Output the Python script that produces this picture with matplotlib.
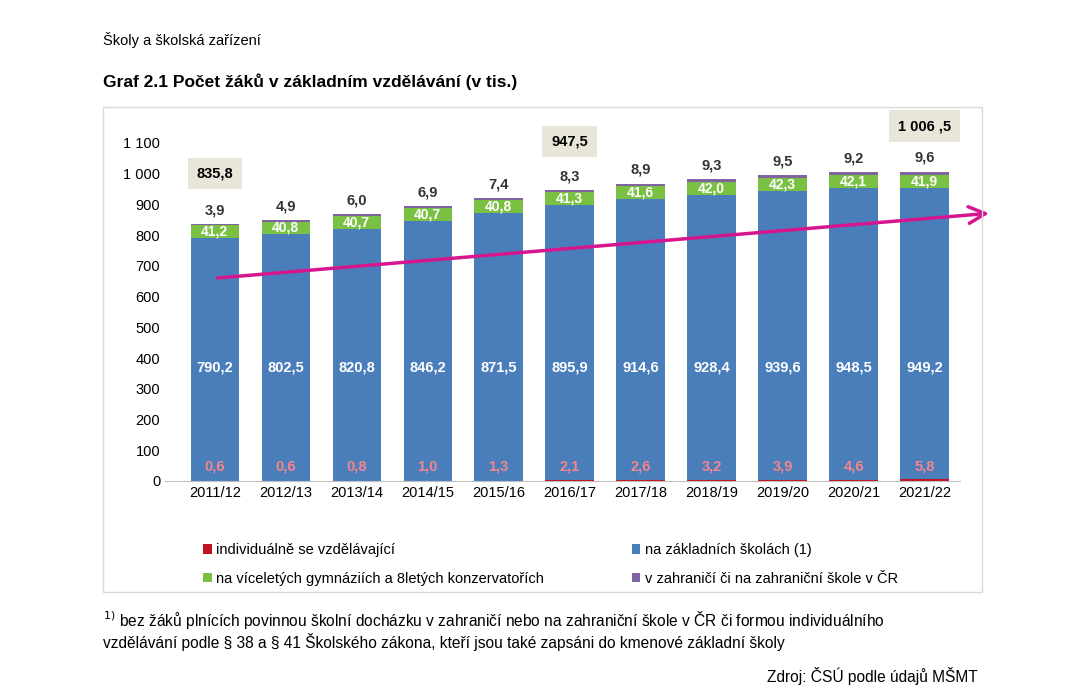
import matplotlib.pyplot as plt
from matplotlib.patches import Rectangle

plt.rcParams['font.family'] = ['Liberation Sans', 'DejaVu Sans']

years = ['2011/12', '2012/13', '2013/14', '2014/15', '2015/16', '2016/17',
         '2017/18', '2018/19', '2019/20', '2020/21', '2021/22']
individual = [0.6, 0.6, 0.8, 1.0, 1.3, 2.1, 2.6, 3.2, 3.9, 4.6, 5.8]
zakladni = [790.2, 802.5, 820.8, 846.2, 871.5, 895.9, 914.6, 928.4, 939.6, 948.5, 949.2]
gymnazia = [41.2, 40.8, 40.7, 40.7, 40.8, 41.3, 41.6, 42.0, 42.3, 42.1, 41.9]
zahranici = [3.9, 4.9, 6.0, 6.9, 7.4, 8.3, 8.9, 9.3, 9.5, 9.2, 9.6]
totals = {0: '835,8', 5: '947,5', 10: '1 006 ,5'}
yticks = list(range(0, 1101, 100))

def cz(v):
    return f'{v:.1f}'.replace('.', ',')

fig = plt.figure(figsize=(10.79, 6.93), dpi=100)
fig.patches.append(Rectangle((103/1079, 1-592/693), 879/1079, 485/693,
                             transform=fig.transFigure, fill=False,
                             edgecolor='#d9d9d9', lw=1))
ax = fig.add_axes([165/1079, 1-481/693, 795/1079, 338/693])

x = list(range(len(years)))
w = 0.68
c_red, c_blue, c_green, c_purple = '#c0121f', '#4a7ebb', '#7ac143', '#8064a2'
b1 = individual
b2 = [a + b for a, b in zip(b1, zakladni)]
b3 = [a + b for a, b in zip(b2, gymnazia)]
ax.bar(x, individual, w, color=c_red, label='individuálně se vzdělávající')
ax.bar(x, zakladni, w, bottom=b1, color=c_blue, label='na základních školách (1)')
ax.bar(x, gymnazia, w, bottom=b2, color=c_green,
       label='na víceletých gymnáziích a 8letých konzervatořích')
ax.bar(x, zahranici, w, bottom=b3, color=c_purple,
       label='v zahraničí či na zahraniční škole v ČR')

for i in x:
    ax.text(i, 48, cz(individual[i]), ha='center', va='center', color='#f4868c',
            fontsize=10.5, fontweight='bold')
    ax.text(i, 370, cz(zakladni[i]), ha='center', va='center', color='white',
            fontsize=10.5, fontweight='bold')
    ax.text(i, b2[i] + gymnazia[i] / 2, cz(gymnazia[i]), ha='center', va='center',
            color='white', fontsize=10, fontweight='bold')
    ax.text(i, b3[i] + zahranici[i] + 22, cz(zahranici[i]), ha='center',
            va='bottom', color='#333333', fontsize=10.5, fontweight='bold')

for i, t in totals.items():
    ypos = {0: 1000, 5: 1105, 10: 1155}[i]
    ax.text(i, ypos, t, ha='center', va='center', fontsize=10.5, fontweight='bold',
            bbox=dict(boxstyle='square,pad=0.6', fc='#e8e6d8', ec='none'),
            clip_on=False)

ax.annotate('', xy=(10.95, 872), xytext=(0, 660),
            arrowprops=dict(arrowstyle='->,head_length=1.2,head_width=0.6',
                            color='#d6168f', lw=2.5), annotation_clip=False)

ax.set_xlim(-0.7, 10.5)
ax.set_ylim(0, 1100)
ax.set_xticks(x)
ax.set_xticklabels(years, fontsize=10.5)
ax.set_yticks(yticks)
ax.set_yticklabels([f'{v:,}'.replace(',', ' ') for v in yticks], fontsize=10.5)
for s in ['top', 'right', 'left']:
    ax.spines[s].set_visible(False)
ax.spines['bottom'].set_color('#bfbfbf')
ax.tick_params(length=0)

h, l = ax.get_legend_handles_labels()
order = [0, 2, 1, 3]
fig.legend([h[k] for k in order], [l[k] for k in order], ncol=2,
           loc='upper left', bbox_to_anchor=(190/1079, 1-530/693), frameon=False,
           fontsize=10.5, handlelength=0.6, handleheight=0.6, columnspacing=6,
           labelspacing=1.0, handletextpad=0.3)

fig.text(103/1079, 1-40/693, 'Školy a školská zařízení', fontsize=10.5, va='center')
fig.text(103/1079, 1-82/693, 'Graf 2.1 Počet žáků v základním vzdělávání (v tis.)',
         fontsize=12.5, fontweight='bold', va='center')
fig.text(103/1079, 1-620/693,
         '$^{1)}$ bez žáků plnících povinnou školní docházku v zahraničí nebo na zahraniční škole v ČR či formou individuálního',
         fontsize=11.2, va='center')
fig.text(103/1079, 1-642/693,
         'vzdělávání podle § 38 a § 41 Školského zákona, kteří jsou také zapsáni do kmenové základní školy',
         fontsize=11.2, va='center')
fig.text(978/1079, 1-676/693, 'Zdroj: ČSÚ podle údajů MŠMT', fontsize=11.2,
         ha='right', va='center')

fig.savefig('out.png', dpi=100)
